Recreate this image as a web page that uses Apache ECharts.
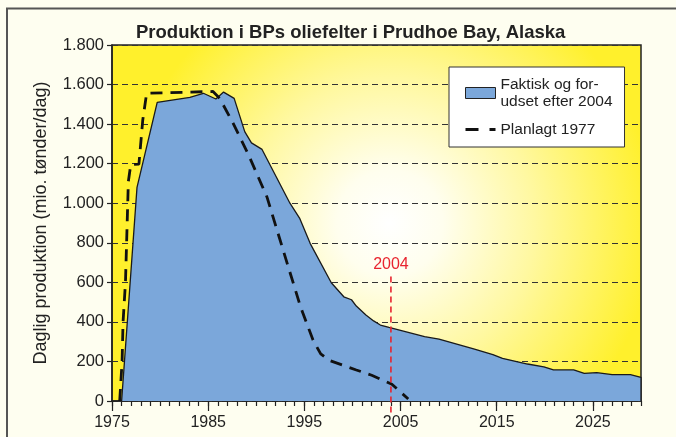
<!DOCTYPE html>
<html><head><meta charset="utf-8">
<script src="https://cdn.jsdelivr.net/npm/echarts@6/dist/echarts.min.js"></script>
<style>html,body{margin:0;padding:0;background:#FEFEF0}#c{width:676px;height:437px}</style>
</head><body><div id="c"></div>
<script>
// ---- data ----
const titleText = 'Produktion i BPs oliefelter i Prudhoe Bay, Alaska';
const yAxisName = 'Daglig produktion (mio. tønder/dag)';
const actualName = 'Faktisk og for-\nudset efter 2004';
const planName = 'Planlagt 1977';
const markYearLabel = '2004';

const years = [];
for (let y = 1975; y <= 2030; y++) years.push(String(y));
const labelYears = ['1975', '1985', '1995', '2005', '2015', '2025'];

const actualX = [1976.0, 1977.6, 1979.7, 1983.1, 1984.5, 1985.8, 1986.6, 1987.7, 1988.8, 1989.5, 1990.6, 1993.5, 1994.5, 1995.6, 1997.8, 1999.1, 1999.9, 2000.4, 2001.4, 2002.2, 2002.9, 2003.8, 2007.5, 2009.0, 2012.6, 2014.6, 2015.6, 2018.2, 2019.9, 2020.9, 2023.0, 2024.1, 2025.4, 2027.0, 2028.9, 2030.0, 2030.0];
const actualY = [0, 1080, 1510, 1535, 1556, 1527, 1562, 1530, 1362, 1305, 1272, 1000, 925, 797, 598, 527, 512, 480, 435, 405, 384, 372, 325, 313, 263, 235, 216, 187, 173, 157, 157, 140, 143, 133, 133, 120, 0];

const planX = [1975.8, 1976.05, 1976.15, 1976.4, 1976.7, 1976.95, 1977.8, 1978.2, 1978.6, 1985.5, 1986.2, 1987.6, 1989.2, 1991.1, 1993.0, 1994.6, 1995.9, 1996.7, 1997.6, 2000.4, 2002.0, 2004.1, 2005.8];
const planY = [0, 200, 400, 600, 1110, 1195, 1198, 1421, 1556, 1565, 1530, 1404, 1244, 1033, 730, 477, 308, 238, 205, 157, 130, 85, 10];

const markX = [2004, 2004];
const markY = [630, -65];

// ---- chart ----
const FONT = '"Liberation Sans", Arial, Helvetica, sans-serif';
const zip = (a, b) => a.map((v, i) => [v, b[i]]);
const fmtY = v => v >= 1000 ? String(v).replace(/(\d)(\d{3})$/, '$1.$2') : String(v);
const NONE = 'rgba(0,0,0,0)';

const chart = echarts.init(document.getElementById('c'));
chart.setOption({
  animation: false,
  backgroundColor: '#FEFEF0',
  textStyle: { fontFamily: FONT },
  title: {
    text: titleText, left: 131, top: 18,
    textStyle: { fontSize: 18.5, fontWeight: 'bold', color: '#222', fontFamily: FONT }
  },
  graphic: [{
    type: 'polyline', silent: true, z: 100,
    shape: { points: [[7, 437], [7, 8.5], [676, 8.5]] },
    style: { stroke: '#555', lineWidth: 2, fill: null }
  }],
  grid: {
    left: 112, right: 35, top: 45, bottom: 36,
    show: true, borderColor: '#222', borderWidth: 1.5,
    backgroundColor: new echarts.graphic.RadialGradient(0.525, 0.5, 0.74, [
      { offset: 0, color: '#FFFFFF' },
      { offset: 0.2, color: '#FFFEEE' },
      { offset: 0.55, color: '#FFF8A0' },
      { offset: 1, color: '#FFF02C' }
    ])
  },
  legend: {
    orient: 'vertical', left: 449, top: 67,
    backgroundColor: '#FFFFFF', borderColor: '#333', borderWidth: 1,
    padding: [9, 12, 9, 15], itemGap: 11, itemWidth: 30, itemHeight: 11,
    selectedMode: false,
    textStyle: { fontSize: 15.5, color: '#222', lineHeight: 17, fontFamily: FONT },
    data: [
      { name: actualName, icon: 'rect', itemStyle: { color: '#7BA7DA', borderColor: '#222', borderWidth: 1 } },
      { name: planName, lineStyle: { type: [13, 11], width: 3, color: '#111' },
        itemStyle: { color: NONE, borderColor: NONE, borderWidth: 0, opacity: 0 } }
    ]
  },
  xAxis: [
    { type: 'value', min: 1975, max: 2030, show: false },
    {
      type: 'category', data: years, boundaryGap: false, position: 'bottom',
      axisLine: { show: true, lineStyle: { color: '#222', width: 1.5 } },
      axisTick: { show: true, interval: 0, length: 5, lineStyle: { color: '#222', width: 1.2 } },
      axisLabel: { interval: (i, v) => labelYears.includes(v), fontSize: 16, color: '#222', margin: 14, fontFamily: FONT },
      splitLine: { show: false }
    },
    {
      type: 'category', data: years, boundaryGap: false, position: 'bottom',
      axisLine: { show: false },
      axisTick: { show: true, interval: (i, v) => labelYears.includes(v), length: 10, lineStyle: { color: '#222', width: 1.2 } },
      axisLabel: { show: false }, splitLine: { show: false }
    }
  ],
  yAxis: {
    type: 'value', min: 0, max: 1800, interval: 200,
    name: yAxisName, nameLocation: 'middle', nameGap: 62,
    nameTextStyle: { fontSize: 18, color: '#222', fontFamily: FONT },
    axisLine: { show: true, lineStyle: { color: '#222', width: 1.5 } },
    axisTick: { show: true, length: 5, lineStyle: { color: '#222', width: 1.2 } },
    axisLabel: { formatter: fmtY, fontSize: 16.5, color: '#222', margin: 8, fontFamily: FONT },
    splitLine: { show: true, lineStyle: { color: '#333', type: [6, 4], width: 1 } }
  },
  series: [
    {
      name: actualName, type: 'line', xAxisIndex: 0, yAxisIndex: 0,
      data: zip(actualX, actualY), symbol: 'none', z: 2,
      lineStyle: { color: '#1a1a1a', width: 1.3 },
      itemStyle: { color: '#7BA7DA' },
      areaStyle: { color: '#7BA7DA', opacity: 1 }
    },
    {
      name: planName, type: 'line', xAxisIndex: 0, yAxisIndex: 0,
      data: zip(planX, planY), symbol: 'none', z: 3,
      lineStyle: { color: '#111', width: 2.8, type: [12, 8] },
      itemStyle: { color: '#111' }
    },
    {
      name: 'marker', type: 'line', xAxisIndex: 0, yAxisIndex: 0, clip: false, z: 4,
      data: zip(markX, markY).map((p, i) => i === 0 ? {
        value: p,
        label: { show: true, position: 'top', distance: 4, formatter: markYearLabel, color: '#E8242F', fontSize: 16, fontFamily: FONT }
      } : { value: p }),
      symbol: 'circle', symbolSize: 0.1, showSymbol: true,
      lineStyle: { color: '#E8242F', width: 1.6, type: [6, 4] },
      itemStyle: { color: '#E8242F' }
    }
  ]
});
</script></body></html>
